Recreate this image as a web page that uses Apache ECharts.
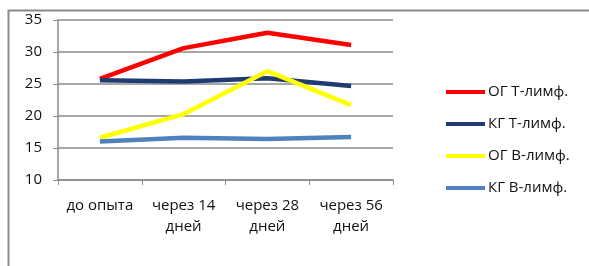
<!DOCTYPE html>
<html><head><meta charset="utf-8">
<script src="https://cdn.jsdelivr.net/npm/echarts@6/dist/echarts.min.js"></script>
<style>html,body{margin:0;padding:0;background:#fff}#c{width:589px;height:266px}</style>
</head><body><div id="c"></div>
<script>
const categories = ['до опыта', 'через 14\nдней', 'через 28\nдней', 'через 56\nдней'];
const seriesNames = ['ОГ Т-лимф.', 'КГ Т-лимф.', 'ОГ В-лимф.', 'КГ В-лимф.'];
const ogT = [25.8, 30.6, 33.0, 31.1];
const kgT = [25.6, 25.4, 25.9, 24.7];
const ogB = [16.6, 20.3, 27.0, 21.7];
const kgB = [16.0, 16.6, 16.4, 16.7];
const colors = ['#FF0000', '#1F3C72', '#FFFF00', '#4F81BD'];
const values = [ogT, kgT, ogB, kgB];
const font = 'Open Sans';
const chart = echarts.init(document.getElementById('c'));
chart.setOption({
  animation: false,
  backgroundColor: '#fff',
  textStyle: { fontFamily: font },
  graphic: [{
    type: 'rect', shape: { x: 8.5, y: 10.5, width: 700, height: 400 },
    style: { fill: 'none', stroke: '#8a8a8a', lineWidth: 2 }, silent: true
  }],
  grid: { left: 58, right: 196, top: 20, bottom: 86 },
  xAxis: {
    type: 'category', data: categories, boundaryGap: true,
    axisLine: { lineStyle: { color: '#8a8a8a', width: 1.5 } },
    axisTick: { show: true, length: 5, lineStyle: { color: '#8a8a8a' } },
    axisLabel: { color: '#111', fontSize: 15, fontFamily: font, margin: 15, lineHeight: 21, interval: 0 }
  },
  yAxis: {
    type: 'value', min: 10, max: 35, interval: 5,
    axisLine: { show: true, lineStyle: { color: '#8a8a8a', width: 1.5 } },
    axisTick: { show: true, length: 5, lineStyle: { color: '#8a8a8a' } },
    splitLine: { lineStyle: { color: '#8a8a8a', width: 1.5 } },
    axisLabel: { color: '#111', fontSize: 15, fontFamily: font, margin: 16 }
  },
  legend: {
    orient: 'vertical', left: 446, top: 82, padding: 0, itemWidth: 39, itemHeight: 4, itemGap: 12,
    icon: 'rect',
    textStyle: { color: '#111', fontSize: 15, fontFamily: font, lineHeight: 20, padding: [0, 0, 0, -2] },
    data: seriesNames
  },
  series: seriesNames.map((n, i) => ({
    name: n, type: 'line', data: values[i], symbol: 'none',
    lineStyle: { color: colors[i], width: 4.5 }, itemStyle: { color: colors[i] }
  }))
});
</script></body></html>
